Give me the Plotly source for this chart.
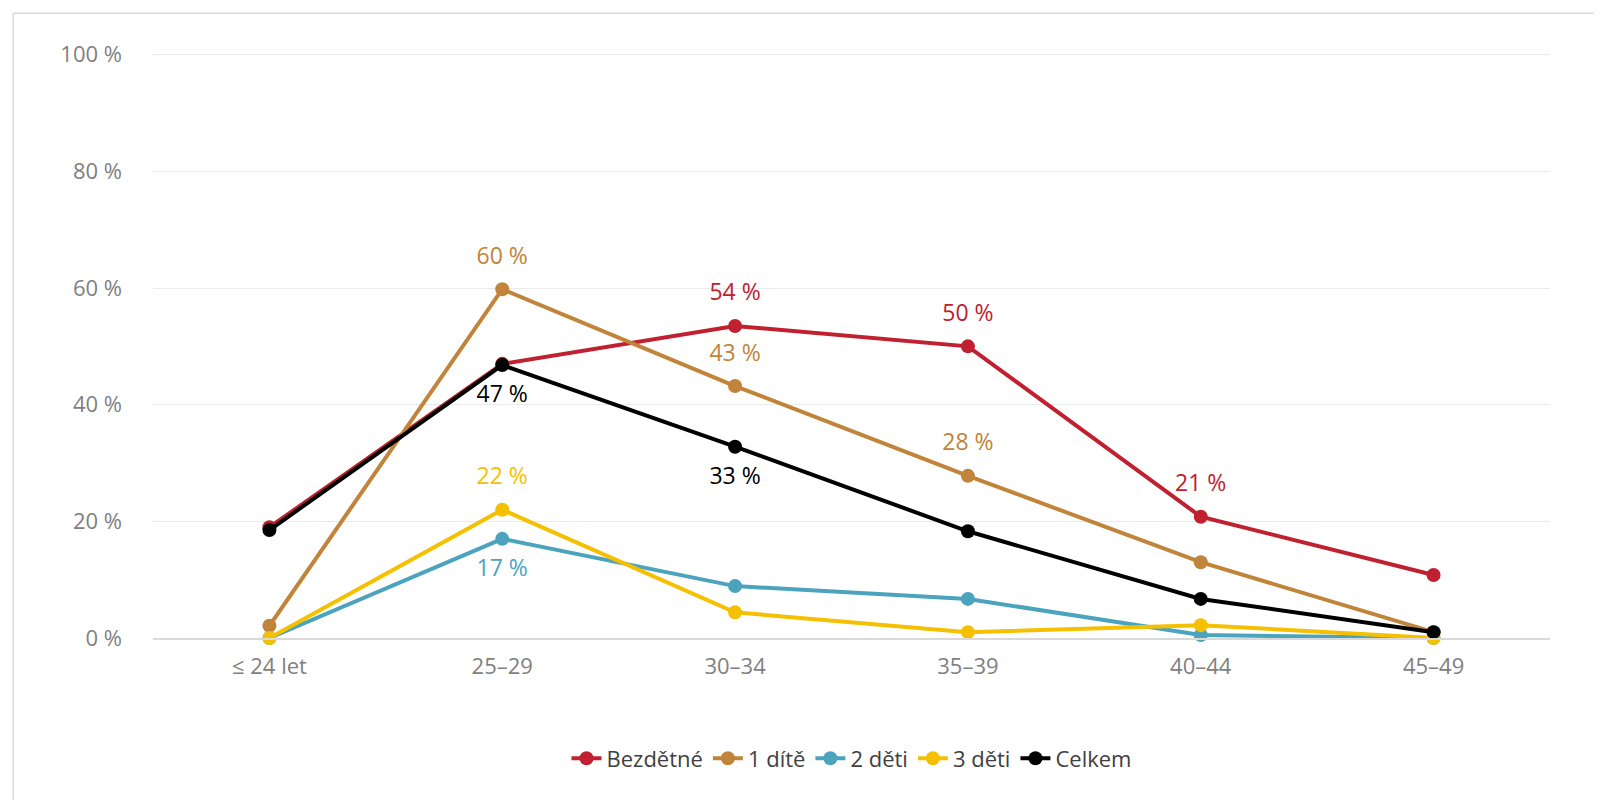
import plotly.graph_objects as go

categories = ["≤ 24 let", "25–29", "30–34", "35–39", "40–44", "45–49"]
bezdetne = [19, 47, 53.5, 50, 20.8, 10.8]
jedno = [2.1, 59.8, 43.2, 27.8, 13, 1]
dve = [0, 17, 8.9, 6.7, 0.5, 0]
tri = [0, 22, 4.4, 1, 2.2, 0]
celkem = [18.5, 46.8, 32.8, 18.3, 6.7, 1]

lab_bez = ["", "", "54 %", "50 %", "21 %", ""]
lab_jedno = ["", "60 %", "43 %", "28 %", "", ""]
lab_dve = ["", "17 %", "", "", "", ""]
lab_tri = ["", "22 %", "", "", "", ""]
lab_cel = ["", "47 %", "33 %", "", "", ""]

series = [
    ("Bezdětné", bezdetne, "#C0202F", lab_bez, "top center"),
    ("1 dítě", jedno, "#C0843A", lab_jedno, "top center"),
    ("2 děti", dve, "#4BA3BE", lab_dve, "bottom center"),
    ("3 děti", tri, "#F5C000", lab_tri, "top center"),
    ("Celkem", celkem, "#000000", lab_cel, "bottom center"),
]

fig = go.Figure()
for name, vals, col, labs, pos in series:
    # lines + markers
    fig.add_trace(go.Scatter(
        x=categories, y=vals, name=name, mode="lines+markers",
        line=dict(color=col, width=4), marker=dict(color=col, size=14),
        cliponaxis=False,
    ))
for name, vals, col, labs, pos in series:
    # labels with extra spacing via invisible larger markers
    fig.add_trace(go.Scatter(
        x=categories, y=vals, mode="markers+text", showlegend=False, hoverinfo="skip",
        marker=dict(size=30, color="rgba(0,0,0,0)"),
        text=labs, textposition=pos, cliponaxis=False,
        textfont=dict(color=col, size=23, family="Open Sans"),
    ))

fig.update_layout(
    width=1602, height=800, paper_bgcolor="white", plot_bgcolor="white",
    margin=dict(l=145, r=60, t=45, b=170),
    font=dict(family="Open Sans", size=22, color="#7F7F7F"),
    legend=dict(orientation="h", x=0.5, xanchor="center", y=-0.17, yanchor="top",
                font=dict(size=22, color="#404040"), itemwidth=30, tracegroupgap=0),
    xaxis=dict(type="category", range=[-0.5, 5.5], showgrid=False, showline=True,
               linecolor="#D9D9D9", linewidth=1.5, ticks="", ticklabelstandoff=8,
               tickfont=dict(size=22, color="#7F7F7F")),
    yaxis=dict(range=[0, 100.3], dtick=20, ticksuffix=" %", gridcolor="#EAEAEA",
               zeroline=False, showline=False, ticklabelstandoff=30,
               tickfont=dict(size=22, color="#7F7F7F")),
    shapes=[dict(type="rect", xref="paper", yref="paper", x0=-0.1, x1=1.039, y0=-0.28, y1=1.068,
                 line=dict(color="#D9D9D9", width=1.5))],
)
fig.write_html("out.html")
